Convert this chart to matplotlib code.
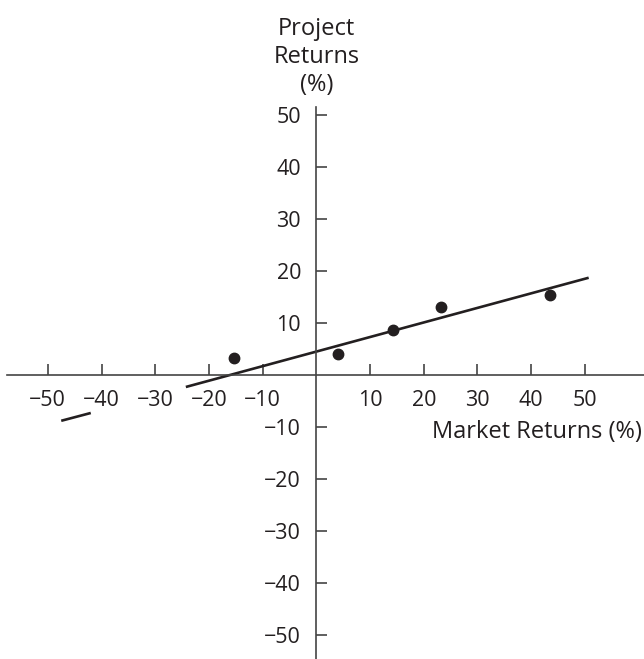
import matplotlib.pyplot as plt

plt.rcParams['font.family'] = ['Open Sans', 'DejaVu Sans']

# scatter of project vs market returns (%)
market = [-15.4, 4.0, 14.2, 23.2, 43.5]
project = [3.3, 4.0, 8.6, 13.0, 15.4]

# fitted line, drawn in two pieces (gap left for the tick labels)
fit_x = [-24.3, 50.7]
fit_y = [-2.3, 18.7]
stub_x = [-47.5, -42.0]
stub_y = [-8.8, -7.3]

ticks = [-50, -40, -30, -20, -10, 10, 20, 30, 40, 50]
tick_labels = [str(t).replace('-', '\u2212') for t in ticks]

ink = "#231f20"

fig = plt.figure(figsize=(6.44, 6.59), dpi=100)
ax = fig.add_axes([0, 0, 1, 1])
ax.set_xlim(-58.9, 61.0)
ax.set_ylim(-54.6, 72.1)

ax.plot(fit_x, fit_y, color=ink, lw=1.9, solid_capstyle='butt')
ax.plot(stub_x, stub_y, color=ink, lw=1.9, solid_capstyle='butt')
ax.plot(market, project, 'o', color=ink, markersize=7.5)

for s in ['top', 'right']:
    ax.spines[s].set_visible(False)
ax.spines['left'].set_position(('data', 0))
ax.spines['bottom'].set_position(('data', 0))
ax.spines['left'].set_bounds(-54.6, 51.5)
ax.spines['bottom'].set_bounds(-57.6, 61.0)
for s in ['left', 'bottom']:
    ax.spines[s].set_color('#444444')
    ax.spines[s].set_linewidth(1.2)

ax.set_xticks(ticks)
ax.set_xticklabels(tick_labels)
ax.set_yticks(ticks)
ax.set_yticklabels(tick_labels)
ax.tick_params(axis='both', direction='in', length=8, width=1.2,
               color='#444444', labelsize=15.5, labelcolor=ink)
ax.tick_params(axis='x', pad=11)
ax.tick_params(axis='y', pad=11)

ax.text(60.6, -12.1, "Market Returns (%)", ha='right', va='baseline',
        fontsize=17, color=ink)
ax.text(0, 54.6, "Project\nReturns\n(%)", ha='center', va='baseline',
        fontsize=17, color=ink, linespacing=1.22)

fig.savefig("out.png", dpi=100)
